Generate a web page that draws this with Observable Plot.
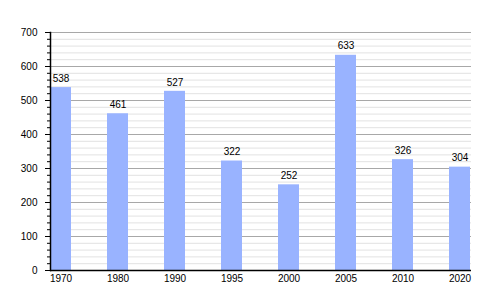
<!DOCTYPE html>
<html>
<head>
<meta charset="utf-8">
<script src="https://cdn.jsdelivr.net/npm/d3@7"></script>
<script src="https://cdn.jsdelivr.net/npm/@observablehq/plot@0.6"></script>
<style>
html,body{margin:0;padding:0;background:#fff;}
#chart svg{display:block;}
</style>
</head>
<body>
<div id="chart"></div>
<script>
const years = ["1970","1980","1990","1995","2000","2005","2010","2020"];
const values = [538, 461, 527, 322, 252, 633, 326, 304];
const majorTicks = [0,100,200,300,400,500,600,700];
const minorTicks = d3.range(0, 701, 20).filter(v => v % 100 !== 0);

const data = years.map((y, i) => ({year: y, value: values[i]}));

const chart = Plot.plot({
  width: 500,
  height: 300,
  marginLeft: 50,
  marginRight: 29,
  marginTop: 32,
  marginBottom: 30,
  style: {fontFamily: "'Liberation Sans', Arial, sans-serif", fontSize: "10px", color: "#000", background: "#fff"},
  x: {domain: years, paddingInner: 0.63, paddingOuter: 0, label: null},
  y: {domain: [0, 700], label: null},
  marks: [
    Plot.ruleY(minorTicks, {stroke: "#e2e2e2", strokeWidth: 1}),
    Plot.ruleY(majorTicks.filter(v => v > 0), {stroke: "#a8a8a8", strokeWidth: 1}),
    Plot.barY(data, {x: "year", y: "value", fill: "#99b3ff"}),
    Plot.text(data, {x: "year", y: "value", text: d => String(d.value), dy: -9, fill: "#000", fontSize: 10}),
    Plot.axisY({ticks: minorTicks, tickSize: 3, text: null, stroke: "#000"}),
    Plot.axisY({ticks: majorTicks, tickSize: 5, tickPadding: 8, stroke: "#000", fill: "#000"}),
    Plot.axisX({tickSize: 0, tickPadding: 4, fill: "#000"}),
    Plot.ruleY([0], {stroke: "#000", strokeWidth: 1.5}),
    Plot.frame({anchor: "left", stroke: "#000", strokeWidth: 1.5})
  ]
});
document.getElementById("chart").appendChild(chart);
</script>
</body>
</html>
